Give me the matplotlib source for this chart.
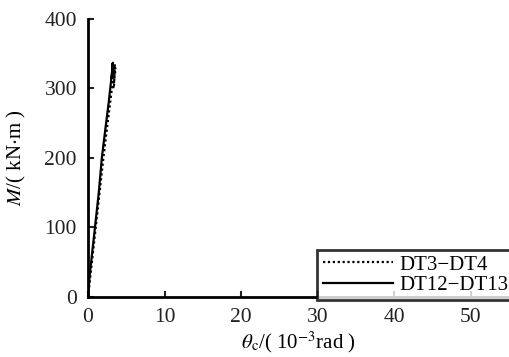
import matplotlib
matplotlib.use("Agg")
import matplotlib.pyplot as plt

plt.rcParams['font.family'] = ['Liberation Serif', 'DejaVu Serif']
plt.rcParams['mathtext.fontset'] = 'stix'

# DT3-DT4 (dotted)
theta_34 = [0.0, 0.3, 1.0, 1.5, 2.0, 2.5, 3.0, 3.3, 3.5, 3.4, 3.3, 3.6]
moment_34 = [0, 30, 100, 150, 200, 245, 290, 315, 335, 305, 300, 330]

# DT12-DT13 (solid)
theta_1213 = [0.0, 0.2, 0.9, 1.4, 1.8, 2.3, 2.7, 3.0, 3.25, 3.1, 3.3, 3.2]
moment_1213 = [0, 30, 100, 150, 200, 245, 280, 310, 337, 315, 325, 335]

labels = ['DT3\u2212DT4', 'DT12\u2212DT13']
xticks = [0, 10, 20, 30, 40, 50]
yticks = [0, 100, 200, 300, 400]

fig = plt.figure(figsize=(5.09, 3.57), dpi=100)
ax = fig.add_axes([0.173, 0.168, 0.827, 0.779])

ax.plot(theta_34, moment_34, color='black', linestyle=(0, (1, 1.2)), linewidth=1.6, label=labels[0])
ax.plot(theta_1213, moment_1213, color='black', linestyle='-', linewidth=1.6, label=labels[1])

ax.set_xlim(0, 55)
ax.set_ylim(0, 400)
ax.set_xticks(xticks)
ax.set_yticks(yticks)
ax.tick_params(direction='in', length=4, width=1.5, labelsize=15.5, pad=8, colors='#222222')
for side in ['top', 'right']:
    ax.spines[side].set_visible(False)
for side in ['left', 'bottom']:
    ax.spines[side].set_linewidth(2)

ax.set_xlabel(r'$\theta_{\rm c}$/( 10$^{-3}$rad )', fontsize=15, labelpad=2)
ax.set_ylabel(r'$M$/( kN$\cdot$m )', fontsize=15, labelpad=12)

leg = ax.legend(loc='lower right', bbox_to_anchor=(1.012, -0.012), fontsize=15,
                frameon=True, fancybox=False, edgecolor='black', handlelength=3.4,
                handletextpad=0.3, borderpad=0.25, labelspacing=0.05, borderaxespad=0)
leg.get_frame().set_linewidth(2)

fig.savefig('out.png', dpi=100)
